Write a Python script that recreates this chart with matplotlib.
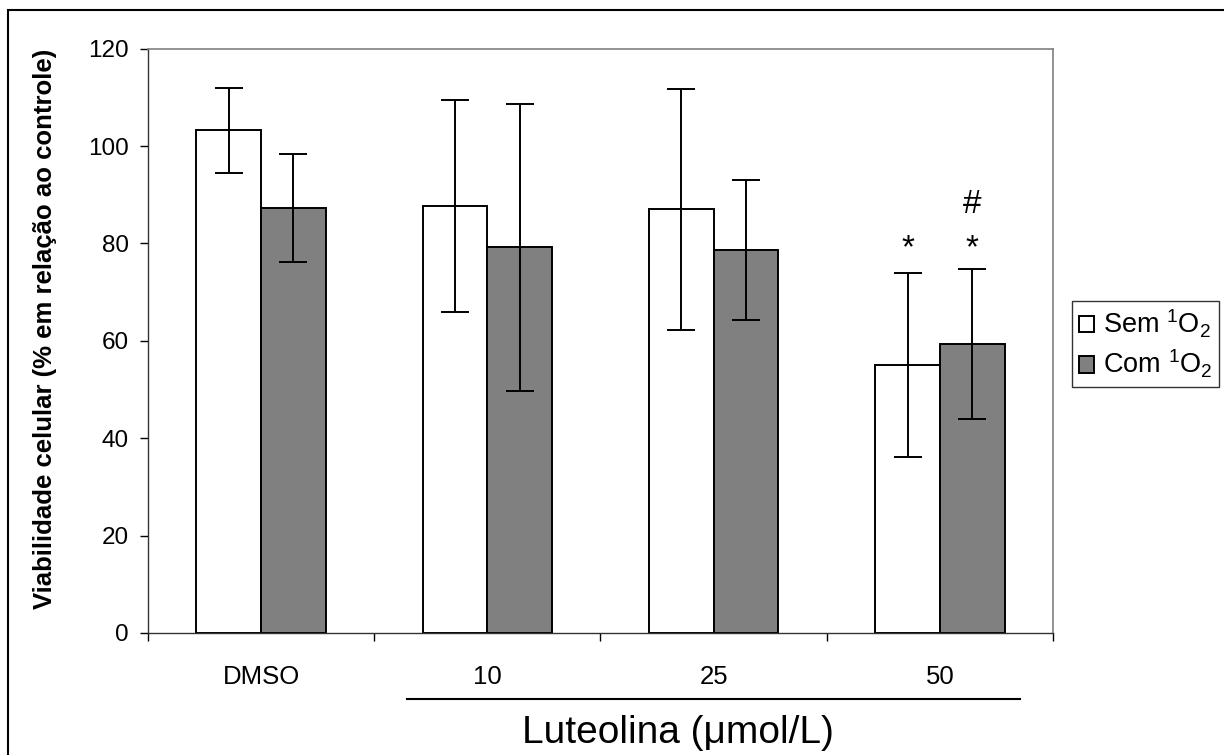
import matplotlib.pyplot as plt
import numpy as np
from matplotlib.patches import Rectangle
from matplotlib.lines import Line2D

plt.rcParams['font.family'] = ['Liberation Sans', 'DejaVu Sans']
plt.rcParams['mathtext.fontset'] = 'custom'
plt.rcParams['mathtext.rm'] = 'Liberation Sans'
plt.rcParams['mathtext.it'] = 'Liberation Sans:italic'

# data
categories = ['DMSO', '10', '25', '50']
sem_o2 = [103.2, 87.7, 87.0, 55.0]
sem_o2_sd = [8.8, 21.8, 24.7, 18.9]
com_o2 = [87.3, 79.2, 78.6, 59.3]
com_o2_sd = [11.1, 29.5, 14.4, 15.4]

# significance marks: (category index, series, symbol, y)
marks = [(3, 0, '*', 79.0), (3, 1, '*', 79.0), (3, 1, '#', 87.9)]

yticks = [0, 20, 40, 60, 80, 100, 120]

fig = plt.figure(figsize=(12.24, 7.55), dpi=100)
ax = fig.add_axes([0.1209, 0.1616, 0.7394, 0.7739])

x = np.arange(len(categories))
w = 0.2857
err_kw = dict(ecolor='black', elinewidth=1.4, capsize=10, capthick=1.4)
b1 = ax.bar(x - w / 2, sem_o2, w, yerr=sem_o2_sd, color='white', edgecolor='black',
            linewidth=1.4, error_kw=err_kw, label='Sem $^1$O$_2$')
b2 = ax.bar(x + w / 2, com_o2, w, yerr=com_o2_sd, color='#808080', edgecolor='black',
            linewidth=1.4, error_kw=err_kw, label='Com $^1$O$_2$')

for i, s, sym, y in marks:
    xp = x[i] - w / 2 if s == 0 else x[i] + w / 2
    ax.text(xp, y, sym, ha='center', va='center', fontsize=24)

ax.set_xlim(-0.5, len(categories) - 0.5)
ax.set_ylim(0, 120)
ax.set_yticks(yticks)
ax.tick_params(axis='y', labelsize=17.5, length=6, width=1, pad=8, direction='out')
ax.set_xticks(x)
ax.set_xticklabels(categories)
ax.tick_params(axis='x', which='major', length=0, labelsize=18.5, pad=23)
ax.set_xticks(np.arange(-0.5, len(categories)), minor=True)
ax.tick_params(axis='x', which='minor', length=6, width=1, direction='out')

for side in ['top', 'right']:
    ax.spines[side].set_color('#808080')
    ax.spines[side].set_linewidth(1.2)
for side in ['left', 'bottom']:
    ax.spines[side].set_color('#333333')
    ax.spines[side].set_linewidth(1.0)

ax.set_ylabel('Viabilidade celular (% em relação ao controle)', fontsize=18.5,
              fontweight='bold')
ax.yaxis.set_label_coords(-0.1, 0.521)

# line under the luteolin concentrations and the group label
trans = ax.get_xaxis_transform()
ax.add_line(Line2D([0.643, 3.354], [-0.113, -0.113], transform=trans, color='black',
                   linewidth=1.5, clip_on=False))
ax.text(1.843, -0.171, 'Luteolina (\u03bcmol/L)', transform=trans, ha='center',
        va='center', fontsize=28)

leg = fig.legend(handles=[b1, b2], loc='upper left', bbox_to_anchor=(1072 / 1224, 1 - 301 / 755),
                 fontsize=19.5, frameon=True, fancybox=False, edgecolor='black',
                 handlelength=0.55, handleheight=0.55, handletextpad=0.35,
                 borderpad=0.25, labelspacing=0.3, borderaxespad=0)
leg.get_frame().set_linewidth(1.0)

# outer border of the figure
fig.patches.append(Rectangle((8 / 1224, -0.05), 1.1, 1 - 10 / 755 + 0.05,
                             transform=fig.transFigure, fill=False,
                             edgecolor='black', linewidth=1.5))

fig.savefig('out.png', dpi=100)
